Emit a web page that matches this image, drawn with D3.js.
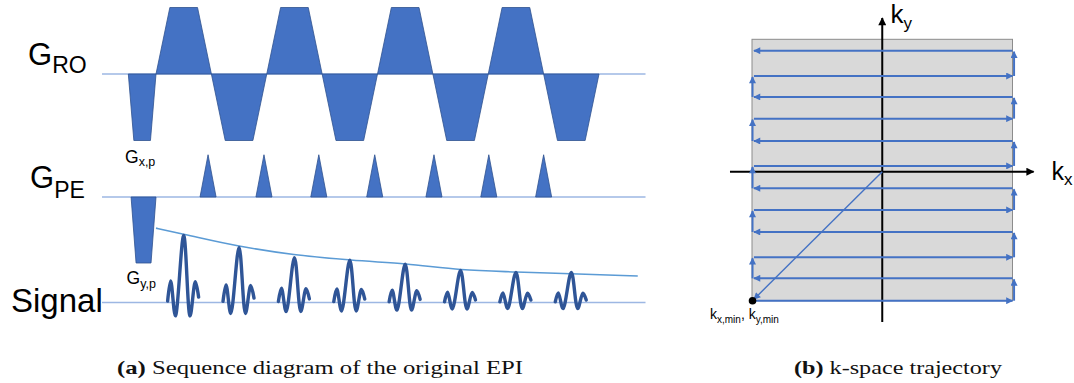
<!DOCTYPE html>
<html><head><meta charset="utf-8">
<script src="https://cdn.jsdelivr.net/npm/d3@7"></script>
<style>body{margin:0;background:#fff}svg{display:block}</style>
</head><body>
<svg id="fig" width="1074" height="383"></svg>
<script>
// ---------- EPI sequence (time in units of one readout lobe) ----------
const roPolarity = [1, -1, 1, -1, 1, -1, 1, -1];
const roRamp = 0.25;
const roPrephaser = {start: -0.5, end: 0, amp: -1, ramp: 0.1};
const pePrephaser = {start: -0.45, end: 0, amp: -1, ramp: 0.09};
const blipTimes = [0.94, 1.95, 2.94, 3.95, 5.02, 6.01, 7.0];
const blipHalfWidth = 0.145;
const blipAmp = 0.64;
const echoAmps = [1.0, 0.82, 0.67, 0.63, 0.57, 0.48, 0.45, 0.45];
const echoShapeT = [-0.29, -0.235, -0.15, 0, 0.115, 0.21, 0.27];
const echoShapeA = [0.02, 0.32, -0.2, 1, -0.2, 0.31, 0.08];
const decayT = [0, 0.52, 1.5, 2.49, 3.52, 4.51, 5.51, 6.5, 7.49, 8.7];
const decayA = [1.11, 1.015, 0.843, 0.716, 0.634, 0.575, 0.493, 0.455, 0.43, 0.396];
const timeSpan = [-0.975, 8.84];

// ---------- k-space raster ----------
const kyLines = [-0.987, -0.816, -0.655, -0.461, -0.293, -0.127, 0.044, 0.235, 0.406, 0.572, 0.732, 0.926];
const kxLineSpan = [-0.985, 1.0];
const kxTurnLeft = -0.996, kxTurnRight = 1.012;
const kBox = {x0: -1, x1: 1, y0: -0.987, y1: 1.013};
const kAxisX = [-1.169, 1.162];
const kAxisY = [-1.15, 1.176];

const svg = d3.select("#fig");
const blue = "#4472C4", blueEdge = "#2F528F", baseCol = "#9DB7E3";
const sans = "'Liberation Sans', Arial, sans-serif";

const t = d3.scaleLinear().domain([0, 8]).range([156, 599]);
const yRO = d3.scaleLinear().domain([-1, 1]).range([140.5, 7.5]);
const yPE = d3.scaleLinear().domain([-1, 1]).range([263, 131]);
const ySig = d3.scaleLinear().domain([0, 1]).range([302.5, 235.5]);

const line = d3.line().x(d => t(d[0]));

function trapezoid(s, e, a, r) { return [[s, 0], [s + r, a], [e - r, a], [e, 0]]; }

// baselines
[[yRO, 0], [yPE, 0], [ySig, 0]].forEach(([y, v]) => {
  svg.append("line").attr("x1", t(timeSpan[0])).attr("x2", t(timeSpan[1]))
    .attr("y1", y(v)).attr("y2", y(v))
    .attr("stroke", baseCol).attr("stroke-width", 1.6);
});

// readout gradient
const roShapes = [trapezoid(roPrephaser.start, roPrephaser.end, roPrephaser.amp, roPrephaser.ramp)]
  .concat(roPolarity.map((p, k) => trapezoid(k, k + 1, p, roRamp)));
svg.append("g").selectAll("path").data(roShapes).join("path")
  .attr("d", d => line.y(p => yRO(p[1]))(d) + "Z")
  .attr("fill", blue).attr("stroke", blueEdge).attr("stroke-width", 0.8);

// phase-encode gradient
const peShapes = [trapezoid(pePrephaser.start, pePrephaser.end, pePrephaser.amp, pePrephaser.ramp)]
  .concat(blipTimes.map(c => [[c - blipHalfWidth, 0], [c, blipAmp], [c + blipHalfWidth, 0]]));
svg.append("g").selectAll("path").data(peShapes).join("path")
  .attr("d", d => line.y(p => yPE(p[1]))(d) + "Z")
  .attr("fill", blue).attr("stroke", blueEdge).attr("stroke-width", 0.8);

// T2* decay envelope
svg.append("path")
  .attr("d", d3.line().x(d => t(d[0])).y(d => ySig(d[1])).curve(d3.curveMonotoneX)(d3.zip(decayT, decayA)))
  .attr("fill", "none").attr("stroke", "#5B9BD5").attr("stroke-width", 1.6);

// gradient echoes, one per readout lobe
const echoLine = d3.line().x(d => t(d[0])).y(d => ySig(d[1])).curve(d3.curveCatmullRom.alpha(0.5));
svg.append("g").selectAll("path").data(echoAmps).join("path")
  .attr("d", (a, k) => echoLine(echoShapeT.map((o, i) => [k + 0.5 + o, a * echoShapeA[i]])))
  .attr("fill", "none").attr("stroke", "#2F5597").attr("stroke-width", 3.4)
  .attr("stroke-linejoin", "round").attr("stroke-linecap", "round");

// channel labels
function label(x, y, main, sub, size, subSize, dy) {
  const tx = svg.append("text").attr("x", x).attr("y", y)
    .attr("font-family", sans).attr("fill", "#000");
  tx.append("tspan").attr("font-size", size).text(main);
  if (sub) tx.append("tspan").attr("font-size", subSize).attr("dy", dy).text(sub);
  return tx;
}
label(28, 65, "G", "RO", 31, 23, 7.5);
label(30, 188, "G", "PE", 31, 23, 10);
label(11, 311.7, "Signal", null, 33);
label(125, 162.7, "G", "x,p", 17.5, 12.5, 3.5);
label(126.5, 284, "G", "y,p", 17.5, 12.5, 3.5);

// ---------- k-space panel ----------
const kx = d3.scaleLinear().domain([-1, 1]).range([752, 1012.5]);
const ky = d3.scaleLinear().domain([-1, 1]).range([302.4, 41.0]);

const defs = svg.append("defs");
function marker(id, color, w, h) {
  defs.append("marker").attr("id", id).attr("viewBox", "0 0 10 10")
    .attr("refX", 9).attr("refY", 5).attr("markerUnits", "userSpaceOnUse")
    .attr("markerWidth", w).attr("markerHeight", h).attr("orient", "auto")
    .append("path").attr("d", "M0,0L10,5L0,10Z").attr("fill", color);
}
marker("arrBlue", blue, 8, 7);
marker("arrBlack", "#000", 9, 8);

svg.append("rect")
  .attr("x", kx(kBox.x0)).attr("y", ky(kBox.y1))
  .attr("width", kx(kBox.x1) - kx(kBox.x0)).attr("height", ky(kBox.y0) - ky(kBox.y1))
  .attr("fill", "#D9D9D9").attr("stroke", "#8C8C8C").attr("stroke-width", 1);

// axes
svg.append("line").attr("x1", kx(kAxisX[0])).attr("x2", kx(kAxisX[1]))
  .attr("y1", ky(0)).attr("y2", ky(0))
  .attr("stroke", "#000").attr("stroke-width", 2).attr("marker-end", "url(#arrBlack)");
svg.append("line").attr("x1", kx(0)).attr("x2", kx(0))
  .attr("y1", ky(kAxisY[0])).attr("y2", ky(kAxisY[1]))
  .attr("stroke", "#000").attr("stroke-width", 2).attr("marker-end", "url(#arrBlack)");

// trajectory: prephasing diagonal, then zig-zag raster
const traj = svg.append("g").attr("stroke", blue).attr("fill", "none");
traj.append("line").attr("x1", kx(0)).attr("y1", ky(0))
  .attr("x2", kx(kxLineSpan[0])).attr("y2", ky(kyLines[0]) - 1.5)
  .attr("stroke-width", 1.4).attr("marker-end", "url(#arrBlue)");
kyLines.forEach((v, i) => {
  const ltr = i % 2 === 0;
  traj.append("line")
    .attr("x1", kx(ltr ? kxLineSpan[0] : kxLineSpan[1])).attr("x2", kx(ltr ? kxLineSpan[1] : kxLineSpan[0]))
    .attr("y1", ky(v)).attr("y2", ky(v))
    .attr("stroke-width", 2).attr("marker-end", "url(#arrBlue)");
  if (i < kyLines.length - 1) {
    const xs = ltr ? kxTurnRight : kxTurnLeft;
    traj.append("line").attr("x1", kx(xs)).attr("x2", kx(xs))
      .attr("y1", ky(v)).attr("y2", ky(kyLines[i + 1]) + 1)
      .attr("stroke-width", 2).attr("marker-end", "url(#arrBlue)");
  }
});
svg.append("circle").attr("cx", kx(-0.996)).attr("cy", ky(kyLines[0])).attr("r", 3.8).attr("fill", "#000");

label(890.5, 22.7, "k", "y", 26, 17, 6);
label(1051.5, 180, "k", "x", 25, 17, 5);
const kmin = svg.append("text").attr("x", 710).attr("y", 319.3).attr("font-family", sans).attr("fill", "#000");
kmin.append("tspan").attr("font-size", 14).text("k");
kmin.append("tspan").attr("font-size", 10).attr("dy", 3.5).text("x,min");
kmin.append("tspan").attr("font-size", 14).attr("dy", -3.5).text(", k");
kmin.append("tspan").attr("font-size", 10).attr("dy", 3.5).text("y,min");

// ---------- captions ----------
const serif = "'Liberation Serif', 'DejaVu Serif', serif";
function caption(x, tag, txt, len) {
  const c = svg.append("text").attr("x", x).attr("y", 374).attr("font-family", serif)
    .attr("font-size", 19).attr("fill", "#111")
    .attr("textLength", len).attr("lengthAdjust", "spacingAndGlyphs");
  c.append("tspan").attr("font-weight", "bold").text(tag);
  c.append("tspan").text(" " + txt);
}
caption(117, "(a)", "Sequence diagram of the original EPI", 406);
caption(794, "(b)", "k-space trajectory", 208);
</script>
</body></html>
